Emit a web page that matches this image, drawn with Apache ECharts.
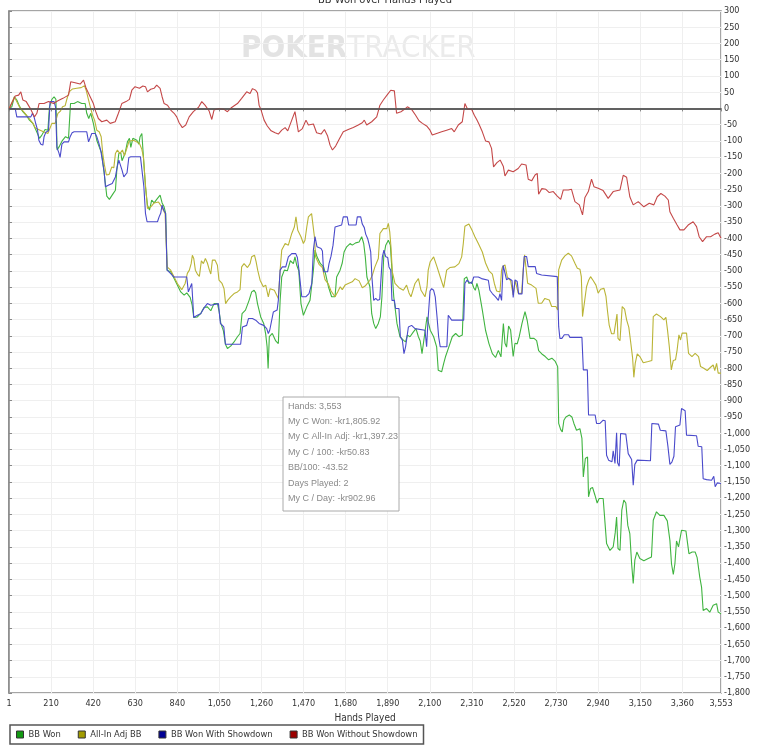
<!DOCTYPE html>
<html>
<head>
<meta charset="utf-8">
<title>BB Won over Hands Played</title>
<script src="https://cdn.jsdelivr.net/npm/echarts@6.0.0/dist/echarts.min.js"></script>
<style>
html, body { margin: 0; padding: 0; background: #fff; }
#main { width: 763px; height: 750px; }
</style>
</head>
<body>
<div id="main"></div>
<script>
var seriesNames = ['BB Won', 'All-In Adj BB', 'BB Won With Showdown', 'BB Won Without Showdown'];
var lineColors = ['#40b440', '#bab436', '#4a4acb', '#c44848'];
var iconColors = ['#129a12', '#a29c00', '#000094', '#9c0000'];

var statLines = [
	'Hands: 3,553',
	'My C Won: -kr1,805.92',
	'My C All-In Adj: -kr1,397.23',
	'My C / 100: -kr50.83',
	'BB/100: -43.52',
	'Days Played: 2',
	'My C / Day: -kr902.96'
];

// BB Won
var greenHands = [1,14,27,39,52,69,86,102,119,131,142,152,164,180,194,202,214,225,234,240,252,265,282,297,307,325,342,363,380,388,398,408,421,438,451,463,471,481,488,501,518,531,538,548,558,564,579,591,601,608,618,638,648,654,663,671,681,691,701,712,724,741,754,764,774,782,789,807,824,840,857,874,887,904,914,922,940,958,973,990,1007,1023,1040,1048,1057,1070,1080,1090,1106,1123,1140,1153,1163,1180,1198,1211,1223,1231,1240,1256,1271,1281,1288,1293,1299,1314,1331,1344,1353,1361,1374,1389,1404,1419,1427,1436,1446,1457,1469,1486,1502,1519,1527,1537,1554,1570,1580,1594,1610,1627,1635,1652,1663,1672,1685,1702,1713,1730,1747,1760,1770,1778,1786,1801,1810,1820,1830,1843,1853,1861,1870,1880,1893,1903,1911,1920,1936,1951,1969,1979,1988,2001,2018,2031,2043,2052,2061,2069,2077,2086,2102,2119,2134,2142,2159,2169,2179,2195,2212,2229,2245,2262,2272,2284,2295,2309,2319,2327,2335,2345,2362,2378,2395,2412,2428,2442,2455,2467,2475,2483,2493,2503,2516,2525,2536,2546,2560,2575,2586,2600,2620,2633,2643,2659,2676,2693,2709,2726,2738,2743,2753,2761,2769,2779,2796,2809,2819,2832,2849,2859,2866,2876,2887,2892,2902,2912,2924,2935,2945,2965,2982,2999,3015,3025,3032,3039,3049,3058,3068,3078,3088,3098,3107,3115,3123,3133,3148,3168,3190,3206,3215,3231,3248,3268,3285,3298,3306,3315,3323,3331,3341,3356,3378,3386,3393,3409,3424,3434,3447,3456,3464,3481,3497,3514,3531,3539,3553];
var greenBB = [0,5,36,26,7,-10,-21,-36,-46,-62,-77,-92,-82,-65,-67,5,28,36,28,-128,-116,-100,-87,-92,15,15,21,15,15,-15,-31,-15,-46,-98,-120,-139,-180,-231,-270,-280,-264,-252,-190,-139,-137,-161,-139,-103,-92,-120,-92,-98,-110,-87,-77,-151,-241,-298,-313,-282,-291,-277,-267,-291,-303,-324,-498,-503,-524,-544,-565,-575,-568,-582,-606,-644,-642,-630,-613,-611,-623,-601,-601,-623,-662,-685,-726,-739,-732,-719,-703,-693,-632,-621,-591,-565,-560,-568,-601,-642,-662,-695,-734,-801,-703,-693,-716,-724,-591,-519,-498,-500,-469,-478,-457,-483,-500,-601,-637,-611,-591,-498,-436,-457,-478,-488,-510,-549,-580,-580,-519,-498,-476,-442,-426,-416,-421,-414,-411,-395,-416,-457,-519,-549,-632,-662,-678,-662,-642,-580,-457,-421,-406,-421,-498,-580,-662,-703,-714,-719,-698,-703,-688,-678,-703,-716,-755,-760,-683,-642,-683,-703,-734,-806,-811,-786,-763,-734,-703,-693,-703,-698,-524,-519,-539,-534,-552,-560,-539,-560,-621,-683,-724,-755,-767,-745,-765,-662,-723,-735,-670,-682,-764,-723,-725,-703,-662,-626,-653,-708,-708,-715,-746,-756,-764,-774,-769,-779,-795,-970,-989,-996,-960,-950,-944,-950,-970,-991,-986,-1016,-1135,-1078,-1073,-1196,-1170,-1167,-1191,-1215,-1201,-1201,-1340,-1361,-1350,-1307,-1258,-1355,-1361,-1237,-1206,-1215,-1284,-1309,-1402,-1463,-1391,-1366,-1386,-1393,-1386,-1381,-1268,-1242,-1253,-1253,-1270,-1330,-1402,-1435,-1402,-1332,-1350,-1299,-1301,-1299,-1371,-1366,-1366,-1383,-1443,-1474,-1546,-1540,-1551,-1530,-1525,-1551,-1556];

// All-In Adj BB
var oliveHands = [1,27,52,86,119,131,172,194,214,230,244,257,267,280,289,300,317,338,360,377,385,395,407,417,427,438,450,460,468,476,486,500,513,523,531,541,553,566,576,588,599,621,638,651,663,671,681,691,708,724,746,762,779,789,807,824,840,862,879,890,900,909,915,922,930,940,950,960,970,980,990,1000,1007,1015,1028,1040,1048,1063,1073,1081,1091,1106,1123,1140,1153,1161,1173,1190,1203,1211,1225,1233,1241,1253,1269,1281,1294,1303,1324,1344,1353,1361,1378,1394,1411,1424,1432,1441,1457,1469,1477,1486,1494,1510,1519,1524,1530,1547,1564,1577,1594,1607,1627,1640,1653,1663,1677,1693,1713,1727,1747,1763,1777,1801,1813,1826,1843,1851,1868,1885,1893,1900,1906,1913,1926,1946,1968,1984,1996,2006,2026,2043,2056,2076,2086,2092,2102,2119,2136,2152,2169,2184,2200,2225,2245,2259,2267,2275,2295,2312,2325,2342,2362,2378,2395,2412,2422,2433,2450,2458,2463,2475,2487,2503,2516,2526,2541,2558,2566,2573,2581,2588,2608,2630,2641,2658,2674,2696,2708,2729,2738,2743,2758,2774,2791,2807,2824,2836,2849,2856,2862,2871,2882,2892,2902,2915,2929,2940,2952,2969,2979,2987,2995,3007,3019,3027,3034,3039,3049,3060,3072,3082,3093,3103,3112,3118,3125,3135,3148,3165,3190,3208,3215,3231,3251,3268,3278,3286,3295,3305,3315,3326,3334,3343,3351,3359,3381,3391,3408,3424,3441,3451,3467,3484,3501,3514,3522,3531,3539,3553];
var oliveBB = [0,35,5,-20,-45,-60,-72,-77,-46,-46,-15,-8,5,8,29,51,60,62,64,70,56,31,2,-21,-36,-67,-72,-87,-139,-174,-205,-203,-180,-183,-139,-128,-139,-128,-146,-123,-101,-98,-103,-108,-126,-151,-236,-308,-303,-291,-288,-303,-324,-488,-498,-519,-539,-558,-539,-508,-498,-478,-452,-462,-498,-510,-517,-469,-478,-462,-476,-498,-510,-467,-467,-483,-529,-539,-555,-601,-591,-580,-570,-565,-558,-488,-478,-490,-478,-457,-452,-472,-498,-529,-549,-544,-580,-555,-560,-585,-498,-436,-416,-421,-385,-365,-334,-375,-395,-416,-406,-365,-334,-324,-326,-395,-457,-480,-490,-527,-541,-562,-580,-565,-549,-558,-544,-539,-534,-524,-531,-552,-547,-529,-514,-488,-462,-385,-370,-370,-354,-380,-426,-503,-539,-552,-560,-544,-568,-580,-539,-524,-560,-580,-549,-498,-472,-457,-488,-519,-552,-498,-490,-488,-478,-457,-416,-363,-356,-377,-395,-416,-442,-476,-500,-510,-539,-562,-565,-498,-487,-482,-520,-530,-574,-530,-569,-569,-497,-451,-456,-538,-544,-554,-600,-600,-585,-590,-610,-610,-621,-497,-467,-454,-446,-454,-477,-492,-495,-518,-641,-600,-549,-530,-518,-530,-544,-569,-557,-554,-579,-626,-667,-694,-694,-662,-633,-708,-715,-610,-618,-651,-674,-723,-769,-828,-785,-756,-764,-783,-779,-776,-641,-633,-641,-651,-643,-682,-733,-805,-776,-774,-744,-697,-713,-692,-692,-754,-764,-754,-764,-795,-800,-807,-797,-790,-807,-785,-815,-815];

// BB Won With Showdown
var blueHands = [1,31,39,109,117,126,134,142,149,159,169,175,184,197,205,225,232,239,249,255,264,275,297,305,315,325,388,397,405,413,430,438,448,458,466,475,481,498,515,531,540,548,564,573,581,589,598,608,656,664,673,681,689,741,749,757,764,772,781,789,806,822,887,895,904,912,922,940,957,967,977,990,1007,1045,1055,1072,1080,1156,1165,1186,1195,1215,1231,1248,1271,1286,1294,1301,1319,1338,1344,1353,1364,1381,1394,1411,1431,1439,1447,1461,1481,1497,1511,1519,1527,1537,1557,1564,1570,1590,1597,1607,1617,1627,1660,1668,1688,1695,1732,1738,1755,1763,1773,1780,1790,1798,1805,1811,1820,1830,1840,1850,1856,1863,1871,1880,1890,1896,1905,1911,1923,1929,1946,1953,1963,1971,1979,1993,2009,2026,2076,2084,2092,2101,2109,2119,2127,2136,2144,2152,2185,2192,2209,2269,2275,2285,2295,2309,2319,2342,2358,2392,2400,2412,2428,2442,2450,2458,2466,2475,2483,2493,2510,2516,2525,2536,2543,2560,2566,2571,2583,2591,2626,2633,2658,2736,2743,2749,2759,2771,2792,2799,2859,2866,2886,2892,2925,2932,2949,2965,2975,2982,2992,3009,3015,3024,3032,3037,3045,3052,3078,3090,3107,3115,3123,3135,3201,3208,3241,3250,3278,3288,3298,3308,3318,3326,3348,3356,3374,3381,3431,3439,3457,3464,3481,3506,3517,3524,3534,3553];
var blueBB = [0,0,-26,-26,-15,-28,-48,-65,-98,-110,-113,-87,-73,-69,21,21,5,-120,-137,-151,-110,-103,-103,-87,-75,-72,-72,-103,-98,-77,-77,-87,-106,-130,-161,-195,-241,-236,-231,-211,-180,-159,-190,-211,-216,-198,-151,-149,-149,-151,-241,-323,-349,-349,-334,-323,-298,-313,-323,-498,-508,-519,-519,-565,-568,-539,-644,-637,-632,-621,-611,-601,-606,-601,-662,-673,-726,-726,-673,-668,-647,-647,-652,-662,-668,-678,-693,-683,-627,-621,-591,-498,-488,-488,-457,-447,-447,-459,-498,-580,-580,-570,-539,-436,-395,-426,-431,-439,-503,-503,-478,-455,-421,-365,-359,-334,-334,-359,-359,-334,-334,-356,-367,-387,-401,-421,-442,-519,-591,-585,-591,-588,-591,-457,-436,-457,-459,-488,-498,-591,-591,-616,-616,-703,-714,-755,-734,-673,-668,-678,-683,-734,-642,-562,-555,-560,-580,-642,-703,-734,-734,-637,-652,-652,-539,-529,-534,-539,-519,-519,-524,-529,-560,-570,-580,-591,-570,-591,-483,-482,-528,-523,-530,-582,-528,-533,-571,-571,-503,-456,-456,-487,-487,-508,-513,-518,-672,-708,-708,-697,-697,-705,-705,-805,-805,-944,-944,-970,-970,-960,-962,-1068,-1083,-1088,-1054,-1093,-999,-1091,-1102,-1001,-1003,-1063,-1081,-1160,-1096,-1083,-1085,-970,-972,-991,-993,-1040,-1096,-1089,-1071,-980,-975,-924,-931,-1006,-1008,-1040,-1042,-1140,-1143,-1145,-1133,-1165,-1153,-1155];

// BB Won Without Showdown
var redHands = [1,31,48,59,69,86,109,127,139,150,175,197,222,242,269,297,308,330,355,372,380,385,405,421,433,446,463,488,505,530,546,563,584,601,613,629,651,668,681,691,707,724,737,754,764,774,791,807,824,837,849,865,882,899,920,945,962,978,998,1012,1023,1048,1073,1090,1111,1140,1161,1186,1203,1215,1231,1240,1248,1258,1273,1289,1308,1328,1344,1361,1378,1391,1411,1427,1436,1444,1464,1482,1494,1519,1535,1557,1574,1590,1602,1614,1630,1647,1668,1693,1718,1743,1763,1773,1785,1810,1835,1851,1868,1890,1905,1923,1934,1956,1973,1988,2009,2029,2046,2063,2084,2101,2112,2134,2159,2184,2209,2222,2242,2262,2270,2275,2289,2309,2322,2334,2345,2362,2378,2395,2408,2418,2435,2451,2467,2475,2492,2516,2541,2558,2580,2591,2608,2625,2636,2643,2659,2679,2696,2716,2736,2753,2766,2791,2807,2824,2846,2862,2874,2891,2907,2919,2940,2965,2990,3015,3049,3065,3082,3098,3115,3140,3168,3195,3218,3235,3253,3273,3290,3298,3315,3334,3348,3368,3389,3414,3431,3444,3461,3481,3501,3522,3539,3553];
var redBB = [0,38,41,51,26,21,-3,-26,-15,15,15,21,15,23,31,41,82,79,75,87,89,62,36,15,-10,-31,-41,-36,-46,-41,-15,15,21,28,56,67,62,69,67,51,59,62,72,62,36,15,10,-5,-15,-26,-44,-59,-51,-26,-10,3,21,10,-7,-34,-5,0,-3,-10,3,15,31,51,46,61,56,48,10,-5,-36,-54,-69,-75,-79,-67,-59,-69,-36,-10,-5,-72,-62,-36,-51,-48,-75,-79,-65,-85,-113,-128,-116,-96,-72,-65,-59,-51,-44,-36,-51,-41,-26,10,26,44,56,54,-15,-10,-3,5,-3,-21,-38,-46,-54,-67,-82,-77,-72,-67,-62,-72,-51,-41,-36,15,-3,-3,-21,-34,-48,-72,-100,-103,-123,-180,-167,-159,-179,-208,-190,-195,-185,-171,-174,-218,-223,-205,-200,-264,-247,-249,-259,-256,-270,-280,-251,-251,-249,-287,-297,-328,-274,-256,-218,-241,-246,-253,-277,-256,-251,-206,-212,-272,-297,-287,-303,-292,-297,-272,-262,-270,-282,-318,-338,-359,-374,-374,-359,-349,-364,-395,-410,-395,-395,-387,-383,-400];

var allHands = [greenHands, oliveHands, blueHands, redHands];
var allBB = [greenBB, oliveBB, blueBB, redBB];

var narrow = "'Liberation Sans Narrow', 'DejaVu Sans Condensed', 'Liberation Sans', sans-serif";

function withCommas(v) {
	var s = Math.abs(v).toString().replace(/\B(?=(\d{3})+(?!\d))/g, ',');
	return (v < 0 ? '-' : '') + s;
}

function pairs(xs, ys) {
	var out = [];
	for (var i = 0; i < xs.length; i++) {
		out.push([xs[i], ys[i]]);
	}
	return out;
}

var myChart = echarts.init(document.getElementById('main'));

var series = [];
for (var i = 0; i < seriesNames.length; i++) {
	var s = {
		name: seriesNames[i],
		type: 'line',
		showSymbol: false,
		silent: true,
		animation: false,
		color: lineColors[i],
		lineStyle: { width: 1.1, color: lineColors[i] },
		data: pairs(allHands[i], allBB[i])
	};
	if (i === 3) {
		s.markLine = {
			silent: true,
			symbol: 'none',
			label: { show: false },
			lineStyle: { color: '#555', width: 1.5, type: 'solid' },
			data: [{ yAxis: 0 }]
		};
	}
	series.push(s);
}

var legendData = [];
for (var j = 0; j < seriesNames.length; j++) {
	legendData.push({
		name: seriesNames[j],
		icon: 'rect',
		itemStyle: { color: iconColors[j], borderColor: '#333', borderWidth: 1 }
	});
}

option = {
	animation: false,
	backgroundColor: '#fff',
	grid: {
		left: 9,
		right: 42,
		top: 11,
		bottom: 57,
		show: true,
		borderColor: '#888',
		borderWidth: 1.5
	},
	legend: {
		data: legendData,
		selectedMode: false,
		left: 10,
		top: 725,
		orient: 'horizontal',
		itemWidth: 7,
		itemHeight: 7,
		itemGap: 17,
		padding: [5, 6, 5, 6],
		borderColor: '#555',
		borderWidth: 1.5,
		borderRadius: 0,
		textStyle: { fontSize: 9.3, color: '#333', fontFamily: narrow }
	},
	xAxis: {
		type: 'value',
		min: 0,
		max: 3553,
		interval: 210,
		name: 'Hands Played',
		nameLocation: 'middle',
		nameGap: 20,
		nameTextStyle: { fontSize: 10, color: '#333', fontFamily: narrow },
		axisLine: { show: true, lineStyle: { color: '#888', width: 2 } },
		axisTick: { show: true, length: 3, lineStyle: { color: '#888' } },
		axisLabel: {
			fontSize: 9,
			color: '#333',
			margin: 6,
			fontFamily: narrow,
			formatter: function(v) { return v === 0 ? '1' : withCommas(v); }
		},
		splitLine: { show: true, lineStyle: { color: '#efefef', width: 1 } }
	},
	yAxis: {
		type: 'value',
		position: 'right',
		min: -1800,
		max: 300,
		interval: 50,
		axisLine: { show: true, lineStyle: { color: '#888', width: 1.5 } },
		axisTick: { show: true, length: 3, lineStyle: { color: '#888' } },
		axisLabel: {
			fontSize: 9,
			color: '#333',
			margin: 3,
			fontFamily: narrow,
			formatter: function(v) { return withCommas(v); }
		},
		splitLine: { show: true, lineStyle: { color: '#efefef', width: 1 } }
	},
	graphic: [
		{
			type: 'text',
			x: 385, y: 0,
			silent: true,
			style: {
				text: 'BB Won over Hands Played',
				fill: '#333',
				fontSize: 11,
				fontFamily: narrow,
				align: 'center',
				verticalAlign: 'middle'
			}
		},
		{
			type: 'text',
			x: 241, y: 49,
			silent: true,
			z: -1,
			style: {
				text: '{a|POKER}{b|TRACKER}',
				verticalAlign: 'middle',
				rich: {
					a: { fill: '#e3e3e3', fontSize: 31, fontWeight: 'bold', fontFamily: narrow },
					b: { fill: '#ebebeb', fontSize: 31, fontFamily: narrow }
				}
			}
		},
		{
			type: 'rect',
			silent: true,
			z: 10,
			shape: { x: 283, y: 397, width: 116, height: 114 },
			style: { fill: '#fff', stroke: '#aaa', lineWidth: 1 }
		},
		{
			type: 'text',
			x: 288, y: 398.5,
			silent: true,
			z: 11,
			style: {
				text: statLines.join('\n'),
				fill: '#8a8a8a',
				fontSize: 9,
				lineHeight: 15.4,
				fontFamily: "'Liberation Sans', sans-serif",
				verticalAlign: 'top'
			}
		}
	],
	series: series
};
myChart.setOption(option);
</script>
</body>
</html>
